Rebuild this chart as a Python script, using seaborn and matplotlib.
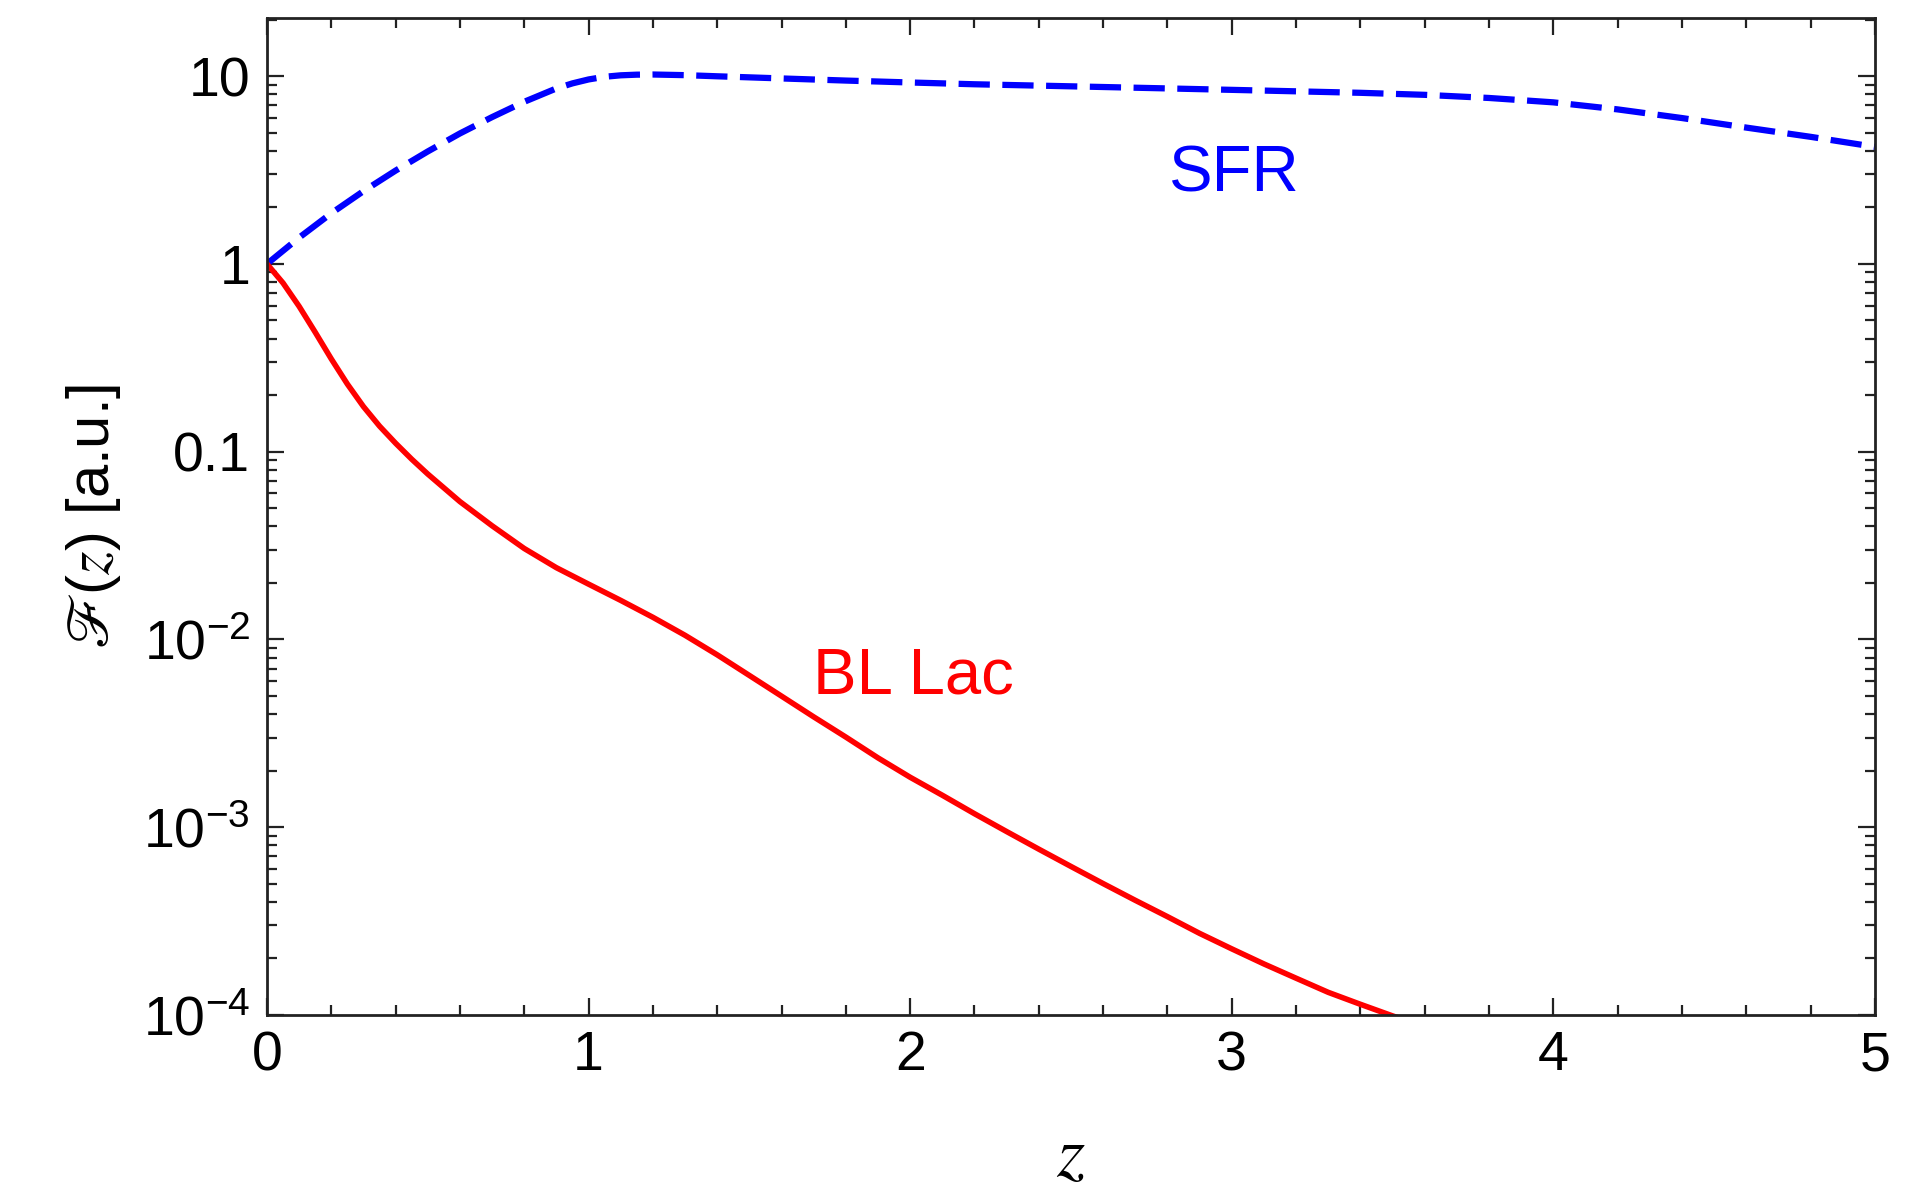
import matplotlib
matplotlib.use("Agg")
import matplotlib.pyplot as plt
import matplotlib.ticker as mticker
import numpy as np
import pandas as pd
import seaborn as sns

# Redshift grids and source evolution functions F(z) (arbitrary units)
z_sfr = [0.0, 0.1, 0.2, 0.3, 0.4, 0.5, 0.6, 0.7, 0.8, 0.9, 0.95, 1.0, 1.05,
         1.1, 1.15, 1.2, 1.3, 1.4, 1.5, 1.6, 1.8, 2.0, 2.2, 2.4, 2.6, 2.8,
         3.0, 3.2, 3.4, 3.6, 3.8, 4.0, 4.2, 4.4, 4.6, 4.8, 5.0]
f_sfr = [1.0, 1.38, 1.86, 2.44, 3.14, 3.97, 4.95, 6.05, 7.3, 8.6, 9.15,
         9.6, 9.92, 10.1, 10.18, 10.2, 10.12, 9.98, 9.85, 9.72, 9.47, 9.25,
         9.05, 8.9, 8.75, 8.6, 8.45, 8.3, 8.15, 7.95, 7.65, 7.25, 6.65,
         5.98, 5.32, 4.75, 4.2]

z_bllac = [0.0, 0.05, 0.1, 0.15, 0.2, 0.25, 0.3, 0.35, 0.4, 0.45, 0.5, 0.6,
           0.7, 0.8, 0.9, 1.0, 1.1, 1.2, 1.3, 1.4, 1.5, 1.6, 1.7, 1.8, 1.9,
           2.0, 2.1, 2.2, 2.3, 2.4, 2.5, 2.6, 2.7, 2.8, 2.9, 3.0, 3.1, 3.2,
           3.3, 3.4, 3.5, 3.6]
f_bllac = [1.0, 0.791, 0.594, 0.4325, 0.3119, 0.2291, 0.1738, 0.1368,
           0.1109, 0.0912, 0.0760, 0.0542, 0.0403, 0.0305, 0.0241, 0.0197,
           0.01614, 0.01312, 0.01052, 0.00828, 0.00643, 0.00499, 0.00387,
           0.00302, 0.00234, 0.001845, 0.00148, 0.00118, 0.000948,
           0.000764, 0.000618, 0.000501, 0.000408, 0.000334, 0.000272,
           0.000225, 0.000187, 0.000157, 0.000132, 0.000114, 0.0000989,
           0.0000861]

label_sfr = "SFR"
label_bllac = "BL Lac"
x_ticks = [0, 1, 2, 3, 4, 5]
y_ticks = [1e-4, 1e-3, 1e-2, 0.1, 1, 10]
y_ticklabels = [r"$\mathregular{10^{-4}}$", r"$\mathregular{10^{-3}}$",
                r"$\mathregular{10^{-2}}$", "0.1", "1", "10"]

sns.set_theme(style="ticks")
plt.rcParams["font.family"] = ["Liberation Sans", "DejaVu Sans"]
plt.rcParams["mathtext.fontset"] = "stix"
plt.rcParams["axes.facecolor"] = "white"
plt.rcParams["figure.facecolor"] = "white"
plt.rcParams["text.color"] = "black"
plt.rcParams["axes.labelcolor"] = "black"
plt.rcParams["xtick.color"] = "black"
plt.rcParams["ytick.color"] = "black"

df_sfr = pd.DataFrame({"z": z_sfr, "F": f_sfr})
df_bl = pd.DataFrame({"z": z_bllac, "F": f_bllac})

fig = plt.figure(figsize=(19.22, 11.91), dpi=100)
ax = fig.add_axes([0.1389, 0.1478, 0.8366, 0.8371])

sns.lineplot(data=df_sfr, x="z", y="F", ax=ax, color="#0000ff",
             linewidth=4.5, linestyle=(0, (5, 2)), dash_capstyle="butt")
sns.lineplot(data=df_bl, x="z", y="F", ax=ax, color="#ff0000",
             linewidth=4.0)

ax.set_yscale("log")
ax.set_xlim(0, 5)
ax.set_ylim(1e-4, 20.4)

ax.set_xticks(x_ticks)
ax.set_xticklabels([str(t) for t in x_ticks])
ax.xaxis.set_minor_locator(mticker.MultipleLocator(0.2))
ax.set_yticks(y_ticks)
ax.set_yticklabels(y_ticklabels)
ax.yaxis.set_minor_locator(mticker.LogLocator(base=10, subs=np.arange(2, 10), numticks=20))
ax.yaxis.set_minor_formatter(mticker.NullFormatter())

ax.tick_params(which="both", direction="in", top=True, right=True,
               color="#222222", width=1.6)
ax.tick_params(which="major", length=12.5)
ax.tick_params(which="minor", length=7)
ax.tick_params(axis="x", which="major", labelsize=40, pad=11)
ax.tick_params(axis="y", which="major", labelsize=40, pad=12)

for sp in ax.spines.values():
    sp.set_color("#222222")
    sp.set_linewidth(2.0)

ax.set_xlabel("$z$", fontsize=52, labelpad=30)
ax.set_ylabel(r"$\mathscr{F}$($z$) [a.u.]", fontsize=43, labelpad=14)

ax.text(3.007, 2.42, label_sfr, color="#0000ff", fontsize=47,
        ha="center", va="baseline")
ax.text(2.009, 0.00518, label_bllac, color="#ff0000", fontsize=47,
        ha="center", va="baseline")

fig.savefig("out.png", dpi=100)
